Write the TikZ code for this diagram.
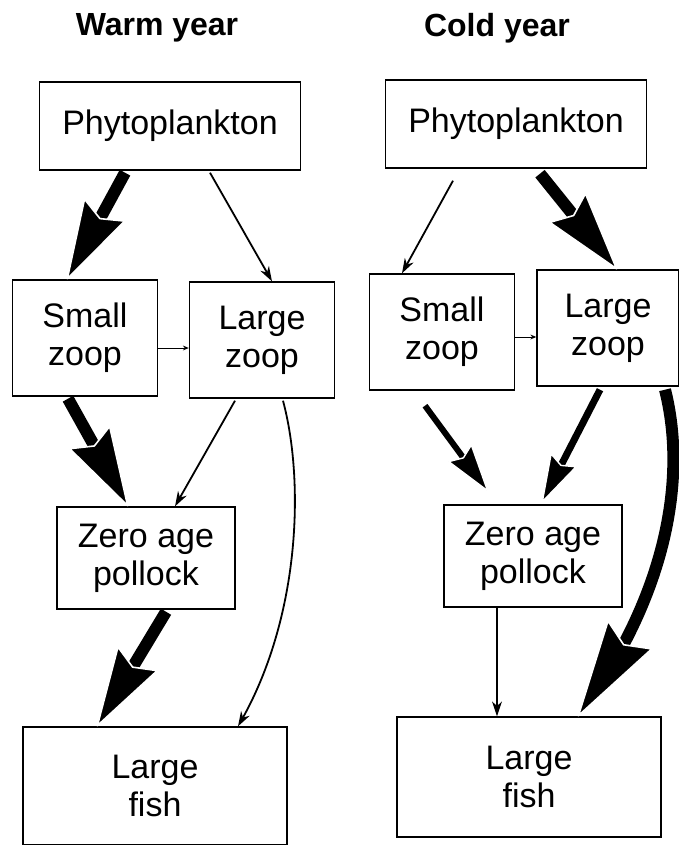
\documentclass[tikz,border=0pt]{standalone}
\usepackage{fontspec}
\setmainfont{Liberation Sans}
\usetikzlibrary{arrows.meta,bending,calc}

\begin{document}
\begin{tikzpicture}[x=1pt,y=-1pt,
  box/.style={draw,line width=1.4pt,align=center,inner sep=0pt,
              font=\fontsize{34}{38}\selectfont},
  phybox/.style={box,minimum width=261pt,minimum height=88pt},
  zoopbox/.style={box,minimum width=145pt,minimum height=116pt},
  polbox/.style={box,minimum width=178pt,minimum height=102pt},
  fishbox/.style={box,minimum width=264pt,minimum height=118pt},
  heading/.style={font=\bfseries\fontsize{32}{38}\selectfont},
  bigflow/.style={line width=12pt,-{Stealth[round,length=82pt,width=48pt,inset=10pt,line width=1.6pt,color=white,fill=black]}},
  curveflow/.style={line width=12pt,-{Stealth[round,length=100pt,width=54pt,inset=12pt,line width=1.6pt,color=white,fill=black]}},
  midflow/.style={line width=7pt,-{Stealth[round,length=50pt,width=30pt,inset=6pt,line width=1.4pt,color=white,fill=black]}},
  thinflow/.style={line width=1.8pt,-{Stealth[length=15pt,width=10pt,line width=0pt]}},
  tinyflow/.style={line width=1pt,-{Stealth[length=6pt,width=5pt,line width=0pt]}}]

\useasboundingbox (0,0) rectangle (679,845);

\node[heading] (wTitle) at (157,28) {Warm year};
\node[heading] (cTitle) at (497,28) {Cold year};

\node[phybox]  (wPhy)   at (170,126) {Phytoplankton};
\node[zoopbox] (wSmall) at (85,338)  {Small\\zoop};
\node[zoopbox] (wLarge) at (262,340) {Large\\zoop};
\node[polbox]  (wPol)   at (146,558) {Zero age\\pollock};
\node[fishbox] (wFish)  at (155,786) {Large\\fish};

\node[phybox]  (cPhy)   at (516,124) {Phytoplankton};
\node[zoopbox] (cSmall) at (442,332) {Small\\zoop};
\node[zoopbox,minimum width=142pt] (cLarge) at (608,328) {Large\\zoop};
\node[polbox]  (cPol)   at (533,556) {Zero age\\pollock};
\node[fishbox,minimum height=120pt] (cFish) at (529,777) {Large\\fish};

\draw[bigflow]  ($(wPhy.south)+(-45,2)$) -- ($(wSmall.north)+(-18,0)$);
\draw[thinflow] ($(wPhy.south)+(40,2)$) -- ($(wLarge.north)+(10,0)$);
\draw[tinyflow] ($(wSmall.east)+(0,10)$) -- ($(wLarge.west)+(0,8)$);
\draw[bigflow]  ($(wSmall.south)+(-17,2)$) -- ($(wPol.north)+(-18,0)$);
\draw[thinflow] ($(wLarge.south)+(-27,2)$) -- ($(wPol.north)+(29,0)$);
\draw[thinflow] ($(wLarge.south)+(21,2)$) .. controls +(22,82) and +(62,-105) .. ($(wFish.north)+(83,0)$);
\draw[bigflow]  ($(wPol.south)+(20,2)$) -- ($(wFish.north)+(-58,0)$);

\draw[thinflow] ($(cPhy.south)+(-63,12)$) -- ($(cSmall.north)+(-40,0)$);
\draw[bigflow]  ($(cPhy.south)+(24,5)$) -- ($(cLarge.north)+(9,0)$);
\draw[tinyflow] ($(cSmall.east)+(0,5)$) -- ($(cLarge.west)+(0,9)$);
\draw[midflow,line width=6pt] ($(cSmall.south)+(-17,15)$) -- ($(cPol.north)+(-45,-13)$);
\draw[midflow]  ($(cLarge.south)+(-8,3)$) -- ($(cPol.north)+(9,-2)$);
\draw[thinflow] ($(cPol.south)+(-36,0)$) -- ($(cFish.north)+(-32,0)$);
\draw[curveflow] ($(cLarge.south)+(57,3)$) .. controls +(23,91) and +(87,-117) .. ($(cFish.north)+(49,0)$);
\end{tikzpicture}
\end{document}
